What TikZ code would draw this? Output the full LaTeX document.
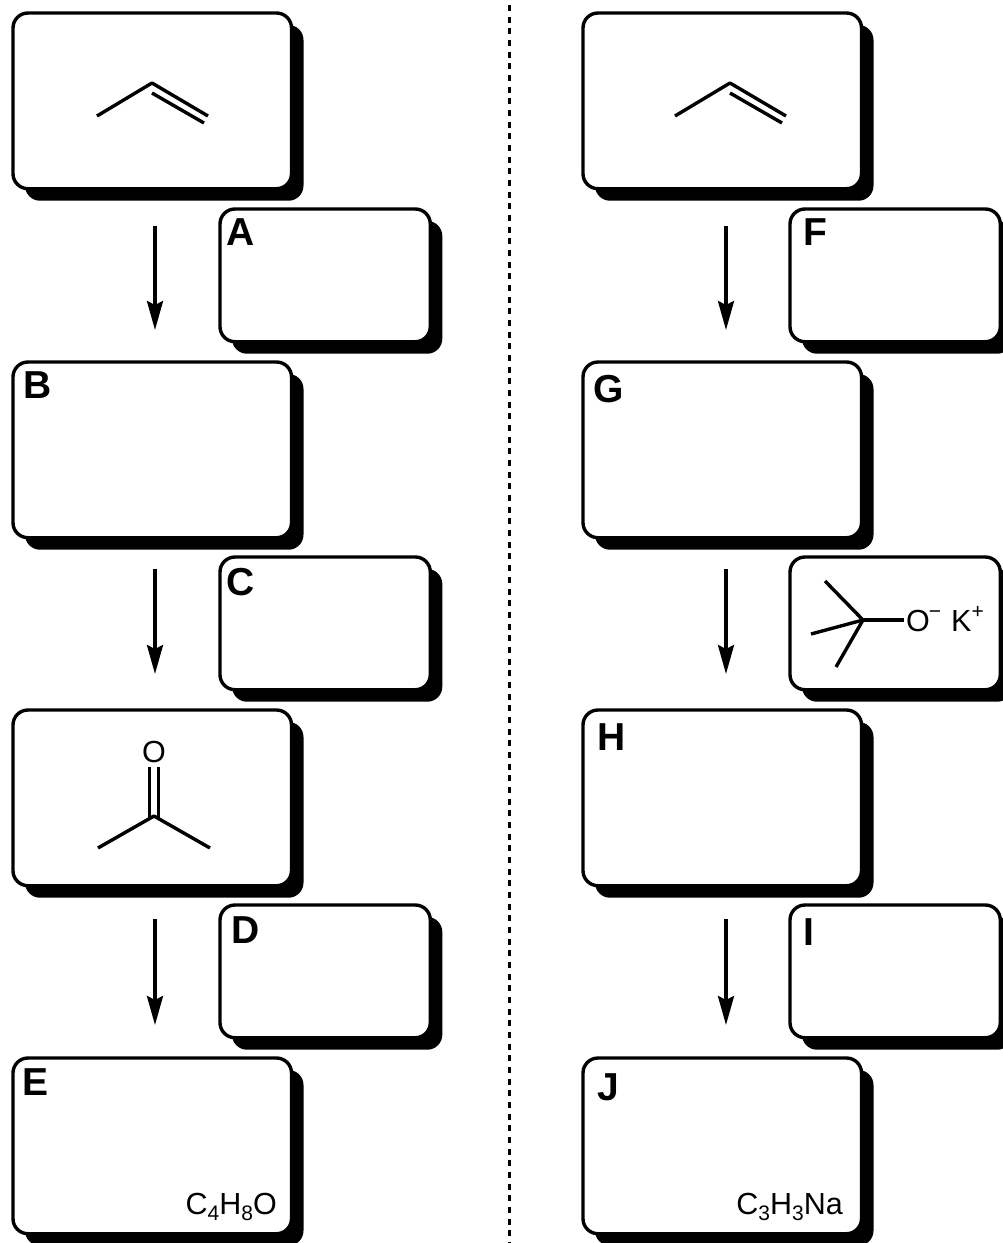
\documentclass[tikz,border=0pt]{standalone}
\usepackage{fontspec}
\setmainfont{Liberation Sans}
\usetikzlibrary{arrows.meta,shadows}
\tikzset{
  panel/.style={draw=black,line width=3.4pt,fill=white,rounded corners=15pt,anchor=north west,inner sep=0pt,outer sep=0pt,
    general shadow={fill=black,shadow xshift=12pt,shadow yshift=-12pt}},
  bigpanel/.style={panel,minimum width=278.5pt,minimum height=175.7pt},
  smallpanel/.style={panel,minimum width=210.3pt,minimum height=132.7pt},
  letter/.style={font=\fontsize{39}{39}\selectfont\bfseries,inner sep=0pt,anchor=base west},
  formula/.style={font=\fontsize{30.5}{30}\selectfont,inner sep=0pt,anchor=base east},
  atom/.style={font=\fontsize{30.5}{30}\selectfont,inner sep=0pt,anchor=base},
  bond/.style={line width=3.4pt,line cap=butt,line join=round},
  rxn/.style={line width=3.4pt,-{Stealth[length=29pt,width=16pt,inset=4pt]}},
}
\newcommand{\supminus}{\raisebox{0.42em}{\fontsize{21}{20}\selectfont −}}
\newcommand{\supplus}{\raisebox{0.42em}{\fontsize{21}{20}\selectfont +}}
\newcommand{\subdig}[1]{\raisebox{-0.2em}{\fontsize{21}{20}\selectfont #1}}
\begin{document}
\begin{tikzpicture}[x=1pt,y=-1pt]
\useasboundingbox (0,0) rectangle (1003,1243);
\fill[white] (0,0) rectangle (1003,1243);
% divider
\coordinate (dt) at (509.3,5); \coordinate (db) at (509.3,1243);
\draw[line width=3pt,dash pattern=on 6pt off 5.67pt] (dt) -- (db);
% left column
\node[bigpanel] (p0) at (13,13) {};
\node[smallpanel] (pA) at (220,209) {};
\node[bigpanel] (pB) at (13,362) {};
\node[smallpanel] (pC) at (220,557) {};
\node[bigpanel] (p1) at (13,710) {};
\node[smallpanel] (pD) at (220,905) {};
\node[bigpanel] (pE) at (13,1058) {};
% right column
\node[bigpanel] (p2) at (583,13) {};
\node[smallpanel] (pF) at (790,209) {};
\node[bigpanel] (pG) at (583,362) {};
\node[smallpanel] (p3) at (790,557) {};
\node[bigpanel] (pH) at (583,710) {};
\node[smallpanel] (pI) at (790,905) {};
\node[bigpanel] (pJ) at (583,1058) {};
% letters
\node[letter] (lA) at (226.5,245) {A};
\node[letter] (lB) at (23,398) {B};
\node[letter] (lC) at (226.5,595) {C};
\node[letter] (lD) at (231,943) {D};
\node[letter] (lE) at (22.5,1095) {E};
\node[letter] (lF) at (803,245) {F};
\node[letter] (lG) at (593,402) {G};
\node[letter] (lH) at (597,750) {H};
\node[letter] (lI) at (803,945) {I};
\node[letter] (lJ) at (597,1100) {J};
% formulas
\node[formula] (fE) at (277,1214) {C\subdig{4}H\subdig{8}O};
\node[formula] (fJ) at (843,1214) {C\subdig{3}H\subdig{3}Na};
% arrows
\foreach \n/\x/\a/\b in {a/155/226/330,b/155/569/674,c/155/919/1025,d/726/226/330,e/726/569/674,f/726/919/1025}{
  \coordinate (\n s) at (\x,\a); \coordinate (\n e) at (\x,\b);
  \draw[rxn] (\n s) -- (\n e);
}
% propene left
\coordinate (la) at (97,116); \coordinate (lb) at (152,83); \coordinate (lc) at (208,116);
\coordinate (ld) at (152,93); \coordinate (le) at (204,123);
\draw[bond] (la) -- (lb) -- (lc); \draw[bond] (ld) -- (le);
% propene right
\coordinate (ra) at (675,116); \coordinate (rb) at (730,83); \coordinate (rc) at (786,116);
\coordinate (rd) at (730,93); \coordinate (re) at (782,123);
\draw[bond] (ra) -- (rb) -- (rc); \draw[bond] (rd) -- (re);
% acetone
\node[atom] (oA) at (154,762.5) {O};
\coordinate (ka) at (98,848); \coordinate (kb) at (154,816); \coordinate (kc) at (210,848);
\coordinate (kd) at (149.7,767); \coordinate (ke) at (149.7,818);
\coordinate (kf) at (158.3,767); \coordinate (kg) at (158.3,818);
\draw[bond] (ka) -- (kb) -- (kc); \draw[bond] (kd) -- (ke); \draw[bond] (kf) -- (kg);
% tBuOK
\node[atom,anchor=base west] (oK) at (906,631) {O\hspace{-1pt}\supminus\hspace{10pt}K\supplus};
\coordinate (tc) at (863,620); \coordinate (to) at (904,620);
\coordinate (t1) at (825,581); \coordinate (t2) at (811,634); \coordinate (t3) at (836,667);
\draw[bond] (tc) -- (to); \draw[bond] (tc) -- (t1); \draw[bond] (tc) -- (t2); \draw[bond] (tc) -- (t3);
\end{tikzpicture}
\end{document}
